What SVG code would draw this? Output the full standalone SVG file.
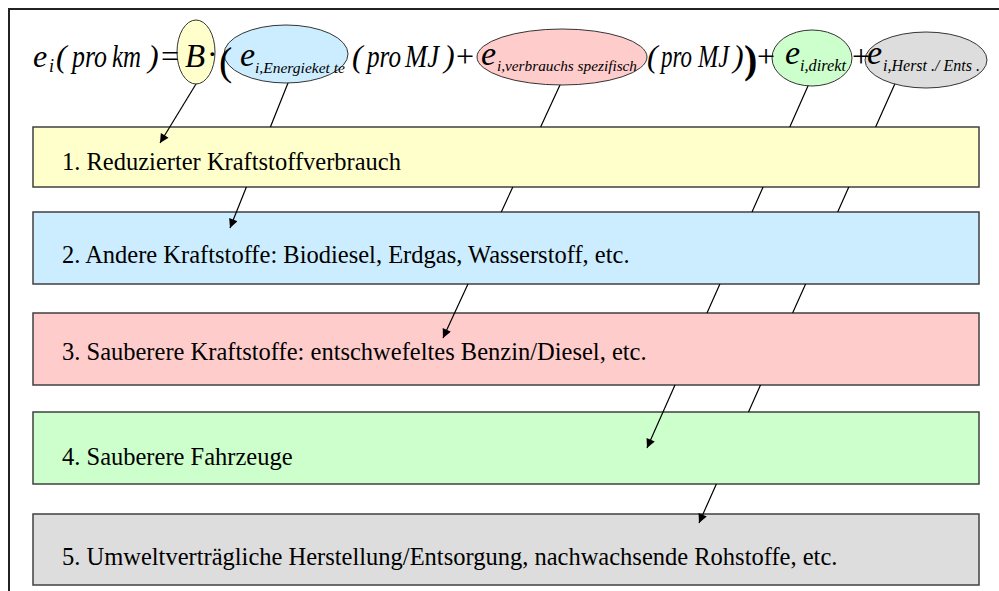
<svg xmlns="http://www.w3.org/2000/svg" width="999" height="591" viewBox="0 0 999 591">
<defs>
<style>
.box{stroke:#404040;stroke-width:1.5}
.lbl{font-family:"Liberation Serif","Times New Roman",serif;font-size:24.5px;fill:#000}
.eq{font-family:"Liberation Serif","Times New Roman",serif;font-style:italic;font-size:32px;fill:#000}
.ell{stroke:#333;stroke-width:1}
.con{fill:none;stroke:#000;stroke-width:1.2}
</style>
<marker id="arr" viewBox="0 0 10 10" refX="10" refY="5" markerWidth="11" markerHeight="9" markerUnits="userSpaceOnUse" orient="auto">
<path d="M0,0 L10,5 L0,10 z" fill="#000"/>
</marker>
</defs>
<rect width="999" height="591" fill="#fff"/>
<path d="M9,591 L9,9 L999,9" fill="none" stroke="#222" stroke-width="2"/>

<g id="box1"><rect class="box" x="33" y="127" width="946" height="60" fill="#FFFFCC"/><text class="lbl" x="62" y="170">1. Reduzierter Kraftstoffverbrauch</text></g>
<g id="box2"><rect class="box" x="33" y="212" width="946" height="72" fill="#CCECFF"/><text class="lbl" x="62" y="263">2. Andere Kraftstoffe: Biodiesel, Erdgas, Wasserstoff, etc.</text></g>
<g id="box3"><rect class="box" x="33" y="313" width="946" height="72" fill="#FFCCCC"/><text class="lbl" x="62" y="360">3. Sauberere Kraftstoffe: entschwefeltes Benzin/Diesel, etc.</text></g>
<g id="box4"><rect class="box" x="33" y="412" width="946" height="72" fill="#CCFFCC"/><text class="lbl" x="62" y="465">4. Sauberere Fahrzeuge</text></g>
<g id="box5"><rect class="box" x="33" y="514" width="946" height="71" fill="#DDDDDD"/><text class="lbl" x="62" y="565">5. Umweltverträgliche Herstellung/Entsorgung, nachwachsende Rohstoffe, etc.</text></g>

<g id="connectors">
<path class="con" d="M201.5,75 L160,143" marker-end="url(#arr)"/>
<path class="con" d="M291.2,75 L270.4,127 M246.4,187 L230,228" marker-end="url(#arr)"/>
<path class="con" d="M564.6,75 L540.6,127 M512.8,187 L501.3,212 M468,284 L443,338" marker-end="url(#arr)"/>
<path class="con" d="M812.4,76 L789.8,127 M763.1,187 L752,212 M719.9,284 L707,313 M675,385 L647,448" marker-end="url(#arr)"/>
<path class="con" d="M897.5,78 L875.6,127 M848.8,187 L837.7,212 M805.6,284 L792.6,313 M760.5,385 L748.5,412 M716.4,484 L699,523" marker-end="url(#arr)"/>
</g>

<g id="nodeB">
<ellipse class="ell" cx="196" cy="52" rx="19" ry="32" fill="#FFFFCC"/>
</g>
<g id="nodeEnergie">
<ellipse class="ell" cx="286" cy="54" rx="62" ry="29" fill="#CCECFF"/>
</g>
<g id="nodeVerbrauch">
<ellipse class="ell" cx="562" cy="57" rx="85" ry="28" fill="#FFCCCC"/>
</g>
<g id="nodeDirekt">
<ellipse class="ell" cx="812" cy="58" rx="40" ry="28" fill="#CCFFCC"/>
</g>
<g id="nodeHerst">
<ellipse class="ell" cx="926" cy="60" rx="61" ry="28" fill="#DDDDDD"/>
</g>

<g id="formula">
<text class="eq" y="67"><tspan x="33">e</tspan><tspan x="49" dy="5" font-size="18">i</tspan><tspan x="56" dy="-5">(</tspan><tspan x="72" textLength="35" lengthAdjust="spacingAndGlyphs">pro</tspan><tspan x="112" textLength="29" lengthAdjust="spacingAndGlyphs">km</tspan><tspan x="148">)</tspan><tspan x="161" font-style="normal">=</tspan><tspan x="185" font-size="33">B</tspan><tspan x="207" dy="-2" font-style="normal">·</tspan><tspan x="219" dy="10" font-style="normal" font-size="40">(</tspan></text>
<text class="eq" y="66"><tspan x="240" font-size="34">e</tspan><tspan x="255" dy="7" font-size="15" textLength="90" lengthAdjust="spacingAndGlyphs">i,Energieket te</tspan><tspan x="352" dy="-6">(</tspan><tspan x="367" textLength="34" lengthAdjust="spacingAndGlyphs">pro</tspan><tspan x="405" textLength="34" lengthAdjust="spacingAndGlyphs">MJ</tspan><tspan x="444">)</tspan><tspan x="456" font-style="normal">+</tspan></text>
<text class="eq" y="65"><tspan x="481" font-size="34">e</tspan><tspan x="497" dy="6" font-size="15" textLength="140" lengthAdjust="spacingAndGlyphs">i,verbrauchs spezifisch</tspan><tspan x="647" dy="-4">(</tspan><tspan x="661" textLength="31" lengthAdjust="spacingAndGlyphs">pro</tspan><tspan x="698" textLength="31" lengthAdjust="spacingAndGlyphs">MJ</tspan><tspan x="733">)</tspan><tspan x="744" dy="6" font-style="normal" font-weight="bold" font-size="40">)</tspan><tspan x="757" dy="-6" font-style="normal">+</tspan></text>
<text class="eq" y="64"><tspan x="785" font-size="34">e</tspan><tspan x="800" dy="7" font-size="16" textLength="46" lengthAdjust="spacingAndGlyphs">i,direkt</tspan><tspan x="852" dy="-4" font-style="normal">+</tspan></text>
<text class="eq" y="64"><tspan x="867" font-size="34">e</tspan><tspan x="883" dy="7" font-size="16" textLength="97" lengthAdjust="spacingAndGlyphs">i,Herst ./ Ents .</tspan></text>
</g>
</svg>
